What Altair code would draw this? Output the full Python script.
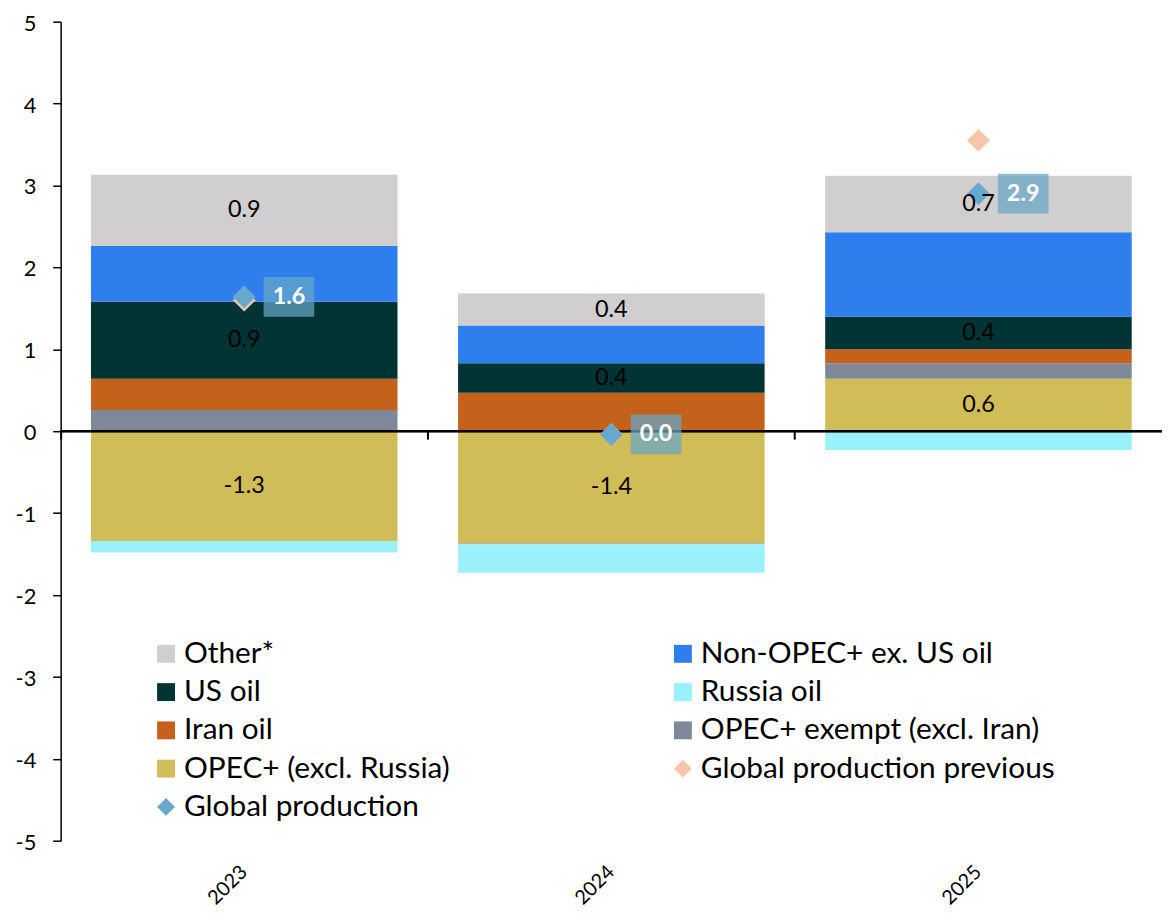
import altair as alt
import pandas as pd

# ---------------- data ----------------
years = ["2023", "2024", "2025"]

# stacking order from zero outward
stack_series = [
    "OPEC+ (excl. Russia)",
    "OPEC+ exempt (excl. Iran)",
    "Iran oil",
    "US oil",
    "Non-OPEC+ ex. US oil",
    "Other*",
    "Russia oil",
]
opec_excl_russia = [-1.34, -1.37, 0.64]
opec_exempt = [0.26, -0.01, 0.19]
iran_oil = [0.38, 0.47, 0.17]
us_oil = [0.94, 0.36, 0.40]
non_opec_ex_us = [0.68, 0.46, 1.03]
other = [0.87, 0.39, 0.69]
russia_oil = [-0.14, -0.35, -0.23]

global_production = [1.64, -0.04, 2.90]
global_production_previous = [1.60, -0.04, 3.55]

labeled_series = ["Other*", "US oil", "OPEC+ (excl. Russia)"]

# legend entries (filled column by column, two columns)
legend_order = [
    "Other*",
    "US oil",
    "Iran oil",
    "OPEC+ (excl. Russia)",
    "Global production",
    "Non-OPEC+ ex. US oil",
    "Russia oil",
    "OPEC+ exempt (excl. Iran)",
    "Global production previous",
]
series_colors = {
    "Other*": "#d0cece",
    "Non-OPEC+ ex. US oil": "#2e7eee",
    "US oil": "#003333",
    "Russia oil": "#9af1fb",
    "Iran oil": "#c4621c",
    "OPEC+ exempt (excl. Iran)": "#7e8898",
    "OPEC+ (excl. Russia)": "#d1bd58",
    "Global production previous": "#f5c7aa",
    "Global production": "#67a9cc",
}
series_shapes = {s: "square" for s in stack_series}
series_shapes["Global production"] = "diamond"
series_shapes["Global production previous"] = "diamond"


def fmt(v):
    return f"{round(v, 1) + 0.0:.1f}"


# ---------------- tables ----------------
values_by_series = [opec_excl_russia, opec_exempt, iran_oil, us_oil,
                    non_opec_ex_us, other, russia_oil]
rows = []
for i, (s, vals) in enumerate(zip(stack_series, values_by_series)):
    for y, v in zip(years, vals):
        rows.append({"year": y, "series": s, "value": v, "order": i,
                     "label": fmt(v), "show": s in labeled_series})
bars_df = pd.DataFrame(rows)

prev_df = pd.DataFrame({"year": years, "value": global_production_previous,
                        "series": "Global production previous"})
glob_df = pd.DataFrame({"year": years, "value": global_production,
                        "series": "Global production",
                        "label": [fmt(v) for v in global_production]})

FONT = "Lato"
color_scale = alt.Scale(domain=legend_order,
                        range=[series_colors[s] for s in legend_order])
shape_scale = alt.Scale(domain=legend_order,
                        range=[series_shapes[s] for s in legend_order])
leg = dict(orient="none", legendX=91, legendY=621, columns=2, title=None,
           symbolSize=324, symbolStrokeWidth=0, labelFontSize=30,
           labelFont=FONT, labelColor="black", rowPadding=8.5,
           columnPadding=219, labelOffset=3, padding=0, labelLimit=600)

x_scale = alt.Scale(paddingInner=0.165, paddingOuter=0.0825)
x_none = alt.X("year:N", scale=x_scale, axis=None)
y_none = alt.Y("value:Q", axis=None, stack=None)

bars = alt.Chart(bars_df).mark_bar().encode(
    x=alt.X("year:N", scale=x_scale,
            axis=alt.Axis(title=None, orient="bottom", labelAngle=-45,
                          labelAlign="right", labelBaseline="middle",
                          labelFontSize=20, labelFont=FONT,
                          labelColor="black", labelPadding=28, ticks=False,
                          domain=False, grid=False)),
    y=alt.Y("value:Q", stack="zero",
            scale=alt.Scale(domain=[-5, 5], nice=False, zero=False),
            axis=alt.Axis(title=None, orient="left",
                          values=list(range(-5, 6)),
                          labelExpr="'' + datum.value", labelFontSize=22,
                          labelFont=FONT, labelColor="black",
                          labelPadding=17, labelOffset=1.5, tickSize=8,
                          tickColor="black", tickWidth=1.5,
                          domainColor="black", domainWidth=1.5,
                          grid=False)),
    color=alt.Color("series:N", scale=color_scale, legend=alt.Legend(**leg)),
    order=alt.Order("order:Q", sort="ascending"),
)

zero_line = alt.Chart(prev_df).mark_rule(color="black", strokeWidth=2).encode(
    y=alt.Y("zero:Q", axis=None),
).transform_calculate(zero="0")

# axis that only draws the category-boundary ticks on the zero line
boundary_ticks = alt.Chart(prev_df).mark_point(opacity=0).encode(
    x=alt.X("year:N", scale=x_scale,
            axis=alt.Axis(title=None, orient="bottom", offset=-412,
                          bandPosition=-0.0988, labels=False, domain=False,
                          ticks=True, tickSize=8, tickWidth=2,
                          tickColor="black", grid=False)),
    y=y_none,
)

prev_pts = alt.Chart(prev_df).mark_point(filled=True, size=530, opacity=1).encode(
    x=x_none, y=y_none,
    color=alt.Color("series:N", scale=color_scale, legend=alt.Legend(**leg)),
    shape=alt.Shape("series:N", scale=shape_scale, legend=alt.Legend(**leg)),
)
glob_pts = alt.Chart(glob_df).mark_point(filled=True, size=530, opacity=1).encode(
    x=x_none, y=y_none,
    color=alt.Color("series:N", scale=color_scale, legend=alt.Legend(**leg)),
    shape=alt.Shape("series:N", scale=shape_scale, legend=alt.Legend(**leg)),
)

bar_labels = alt.Chart(bars_df).transform_stack(
    stack="value", groupby=["year"], as_=["v0", "v1"],
    sort=[alt.SortField("order", "ascending")],
).transform_calculate(
    mid="(datum.v0 + datum.v1) / 2"
).transform_filter("datum.show").mark_text(
    font=FONT, fontSize=23.5, color="black", baseline="middle"
).encode(x=x_none, y=alt.Y("mid:Q", axis=None), text="label:N")

glob_box = alt.Chart(glob_df).mark_rect(
    width=51, height=40, xOffset=45, color="#67a6c6", opacity=0.72
).encode(x=x_none, y=y_none)

glob_text = alt.Chart(glob_df).mark_text(
    font=FONT, fontSize=23.5, fontWeight="bold", color="white",
    baseline="middle", xOffset=45
).encode(x=x_none, y=y_none, text="label:N")

chart = alt.layer(
    bars, zero_line, boundary_ticks, prev_pts, glob_pts, bar_labels,
    glob_box, glob_text
).resolve_axis(x="independent", y="independent").properties(
    width=1108, height=824,
    autosize=alt.AutoSizeParams(type="none"),
    padding={"left": 53, "top": 11, "right": 0, "bottom": 70},
).configure_view(stroke=None)

chart.save("out.html", embed_options={"renderer": "svg", "actions": False})
